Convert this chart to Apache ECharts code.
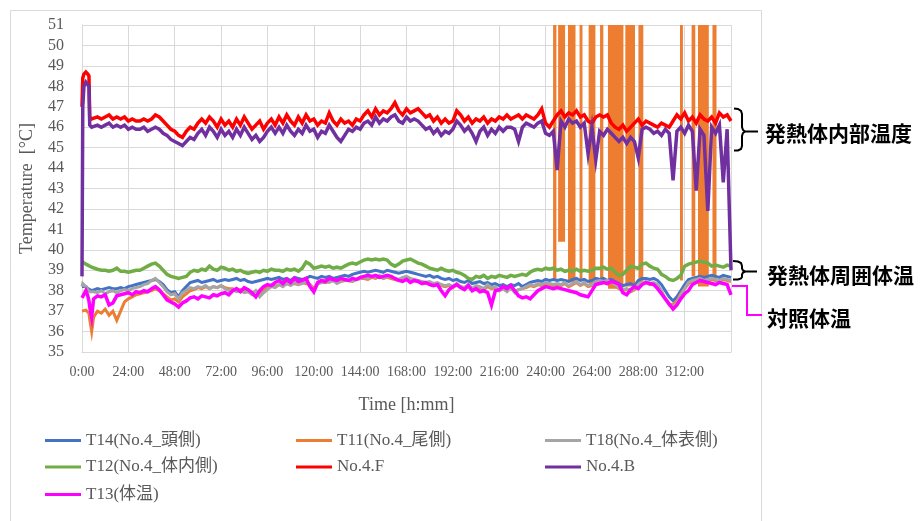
<!DOCTYPE html>
<html>
<head>
<meta charset="utf-8">
<script src="https://cdn.jsdelivr.net/npm/echarts@6/dist/echarts.min.js"></script>
<style>html,body{margin:0;padding:0;background:#fff}#c{width:921px;height:521px}</style>
</head>
<body>
<div id="c"></div>
<script>
// ---- time grid (hours) ----
const hours = [0, 0.4, 1, 2, 3, 3.6, 4, 5];
for (let h = 6; h <= 336; h += 2) hours.push(h);

const xTickLabels = ['0:00','24:00','48:00','72:00','96:00','120:00','144:00','168:00','192:00','216:00','240:00','264:00','288:00','312:00'];

const seriesNames = ['T14(No.4_頭側)','T11(No.4_尾側)','T18(No.4_体表側)','T12(No.4_体内側)','No.4.F','No.4.B','T13(体温)'];

// ---- values (°C) ----
const t14 = [38.2,38.2,38.15,38.2,38.1,38.1,38.05,38.0,
 38.0,38.1,38.05,38.1,38.15,38.1,38.1,38.15,38.1,38.2,38.25,38.3,
 38.35,38.4,38.45,38.5,38.55,38.45,38.3,38.05,37.9,37.95,37.7,38.0,
 38.2,38.4,38.45,38.5,38.4,38.45,38.5,38.55,38.45,38.5,38.55,38.5,
 38.55,38.6,38.5,38.55,38.45,38.4,38.45,38.5,38.55,38.6,38.55,38.6,
 38.65,38.55,38.6,38.5,38.65,38.6,38.55,38.6,38.7,38.65,38.6,38.7,
 38.65,38.7,38.6,38.65,38.7,38.75,38.7,38.8,38.85,38.9,38.95,38.9,
 38.95,39.0,38.95,38.9,39.0,38.95,38.9,38.85,38.9,38.95,38.9,38.85,
 38.8,38.75,38.7,38.75,38.65,38.7,38.6,38.55,38.6,38.5,38.55,38.45,
 38.4,38.5,38.35,38.4,38.45,38.35,38.4,38.3,38.35,38.25,38.3,38.2,
 38.3,38.25,38.35,38.2,38.3,38.4,38.45,38.5,38.45,38.55,38.5,38.55,
 38.5,38.55,38.5,38.45,38.55,38.6,38.5,38.55,38.45,38.5,38.6,38.55,
 38.6,38.5,38.55,38.45,38.35,38.25,38.3,38.35,38.25,38.5,38.6,38.6,
 38.55,38.6,38.5,38.3,38.0,37.7,37.5,37.7,38.0,38.3,38.55,38.6,
 38.65,38.7,38.65,38.7,38.75,38.7,38.65,38.75,38.7,38.65];

const t11 = [37.0,37.0,36.95,37.05,37.0,36.9,36.6,36.0,
 36.7,37.0,36.9,37.1,36.8,37.0,36.55,37.0,37.45,37.6,37.7,37.8,
 37.85,37.9,37.95,38.0,38.1,38.0,37.85,37.7,37.55,37.6,37.45,37.7,
 37.85,38.0,38.05,38.15,38.1,38.2,38.1,38.2,38.15,38.25,38.15,38.1,
 38.1,38.0,38.05,37.95,38.0,37.85,38.0,37.9,38.0,38.15,38.25,38.2,
 38.3,38.25,38.35,38.3,38.35,38.3,38.4,38.35,38.3,38.1,38.35,38.4,
 38.4,38.45,38.5,38.4,38.45,38.5,38.5,38.45,38.55,38.6,38.6,38.55,
 38.65,38.6,38.7,38.6,38.65,38.6,38.55,38.5,38.6,38.65,38.55,38.5,
 38.45,38.4,38.35,38.4,38.3,38.35,38.25,38.2,38.25,38.15,38.3,38.2,
 38.15,38.25,38.1,38.2,38.15,38.05,38.2,38.1,38.15,38.0,38.1,38.0,
 38.1,37.95,38.05,38.1,38.15,38.25,38.2,38.3,38.25,38.35,38.3,38.25,
 38.3,38.25,38.35,38.2,38.3,38.4,38.25,38.35,38.2,38.25,38.4,38.45,
 38.4,38.45,38.35,38.25,38.1,38.0,38.05,37.95,38.05,38.25,38.35,38.4,
 38.3,38.35,38.25,37.95,37.6,37.35,37.3,37.5,37.85,38.1,38.35,38.45,
 38.5,38.55,38.45,38.5,38.55,38.5,38.45,38.55,38.5,38.45];

// T11 sensor dropouts: [start h, end h, low °C, high °C] (high runs off the top of the axis)
const t11Spikes = [
 [243.9,245.6,38.5,51],[246.5,250.1,40.4,51],[251.6,255.5,38.4,51],[257.6,259.1,38.5,51],
 [262.3,265.8,38.3,51],[268.2,269.9,38.3,51],[272.3,280.3,38.1,51],[281.3,286.3,38.2,51],
 [288.2,290.6,38.4,51],[309.6,311.1,38.5,51],[315.6,317.5,38.7,51],[318.9,324.5,38.2,51],
 [326.4,328.5,38.6,51]];

const t18 = [38.2,38.35,38.3,38.2,38.05,38.0,37.95,37.9,
 37.95,37.9,38.0,37.85,37.95,38.0,37.9,38.0,38.05,38.0,38.1,38.15,
 38.2,38.3,38.35,38.5,38.6,38.4,38.2,37.95,37.8,37.85,37.6,37.9,
 38.0,38.15,38.1,38.2,38.15,38.25,38.1,38.2,38.15,38.25,38.1,38.0,
 38.05,37.95,38.0,37.9,37.95,37.8,38.0,37.7,37.9,38.05,38.2,38.15,
 38.3,38.2,38.35,38.25,38.4,38.3,38.35,38.45,38.3,37.95,38.35,38.4,
 38.45,38.4,38.5,38.35,38.45,38.55,38.5,38.45,38.55,38.6,38.65,38.6,
 38.7,38.65,38.75,38.6,38.7,38.65,38.6,38.55,38.65,38.7,38.6,38.55,
 38.5,38.45,38.4,38.45,38.35,38.4,38.3,38.25,38.3,38.2,38.35,38.2,
 38.15,38.3,38.1,38.25,38.2,38.1,38.3,38.15,38.2,38.0,38.1,37.95,
 38.15,37.9,38.05,38.1,38.2,38.3,38.25,38.35,38.3,38.4,38.35,38.3,
 38.35,38.3,38.4,38.25,38.35,38.45,38.3,38.4,38.25,38.3,38.45,38.5,
 38.45,38.5,38.4,38.3,38.15,38.05,38.1,38.0,38.1,38.3,38.4,38.45,
 38.35,38.4,38.3,38.0,37.6,37.3,37.2,37.4,37.8,38.1,38.4,38.5,
 38.55,38.6,38.5,38.55,38.6,38.55,38.5,38.6,38.55,38.5];

const t12 = [39.45,39.4,39.35,39.3,39.25,39.2,39.2,39.15,
 39.1,39.05,39.0,39.0,38.95,39.0,39.1,38.95,38.95,38.9,38.95,39.0,
 39.0,39.1,39.2,39.3,39.35,39.2,39.0,38.8,38.7,38.65,38.6,38.65,
 38.7,38.9,39.0,38.95,39.05,39.0,39.2,39.05,39.0,39.15,39.1,39.0,
 39.05,38.95,39.0,38.9,38.85,38.9,38.95,38.9,39.0,38.95,39.05,39.0,
 39.0,38.95,39.05,39.0,39.05,38.95,39.1,39.4,39.3,39.1,39.15,39.2,
 39.15,39.2,39.1,39.15,39.1,39.2,39.3,39.35,39.3,39.4,39.5,39.55,
 39.5,39.55,39.5,39.55,39.5,39.3,39.2,39.3,39.45,39.5,39.55,39.45,
 39.35,39.3,39.2,39.1,39.05,39.0,39.1,39.0,38.95,39.0,38.9,38.85,
 38.75,38.6,38.55,38.7,38.65,38.75,38.6,38.7,38.65,38.75,38.7,38.65,
 38.75,38.7,38.75,38.8,38.75,38.9,39.0,39.05,39.0,39.1,39.05,39.1,
 39.0,39.05,38.95,39.0,38.95,39.05,38.95,39.0,38.95,39.0,39.1,39.1,
 39.15,39.05,39.1,38.9,38.75,38.8,39.0,39.2,39.15,39.1,39.3,39.35,
 39.2,39.1,39.05,38.8,38.7,38.55,38.5,38.6,38.75,39.2,39.3,39.35,
 39.4,39.45,39.4,39.35,39.2,39.25,39.2,39.15,39.25,39.2];

const no4F = [47.0,48.4,48.6,48.7,48.6,48.5,46.5,46.4,
 46.4,46.5,46.4,46.5,46.6,46.4,46.5,46.4,46.5,46.3,46.4,46.3,
 46.3,46.4,46.3,46.4,46.6,46.5,46.3,46.1,45.9,45.8,45.6,45.5,
 45.8,46.0,45.9,46.2,46.4,46.2,46.5,46.3,46.0,46.4,46.1,46.3,
 46.0,46.4,46.1,46.5,46.2,45.9,46.1,46.3,45.9,46.2,46.4,46.1,
 46.5,46.2,46.6,46.3,46.1,46.5,46.2,46.6,46.3,46.4,46.1,46.3,
 46.2,46.7,46.3,46.1,46.4,46.2,46.3,46.1,46.4,46.3,46.6,46.8,
 46.5,46.9,46.6,46.8,46.7,46.9,47.2,46.8,46.6,46.9,46.7,46.8,
 46.9,46.7,46.5,46.6,46.3,46.5,46.2,46.4,46.2,46.3,46.8,46.6,
 46.3,46.5,46.2,46.4,46.3,46.5,46.2,46.4,46.3,46.5,46.4,46.6,
 46.4,46.5,46.6,46.4,46.6,46.5,46.4,46.6,46.9,46.2,46.0,46.3,
 46.6,46.8,46.5,46.7,46.6,46.8,46.5,46.6,46.3,46.2,46.5,46.6,
 46.5,46.6,46.2,46.0,45.9,46.1,45.8,46.0,46.2,46.4,46.1,46.3,
 46.2,46.1,46.0,46.2,46.1,46.0,46.3,46.6,46.4,46.7,46.3,46.5,
 46.2,46.6,46.4,46.3,46.5,46.2,46.7,46.5,46.6,46.3];

const no4B = [38.7,47.0,48.0,48.2,48.2,48.0,46.1,46.0,
 46.0,46.1,46.0,46.1,46.2,46.0,46.1,46.0,46.1,45.9,46.0,45.9,
 45.9,46.0,45.8,45.9,46.0,45.9,45.7,45.6,45.4,45.3,45.2,45.1,
 45.3,45.5,45.4,45.7,45.9,45.6,46.0,45.8,45.5,45.9,45.6,45.8,
 45.5,45.9,45.6,46.0,45.7,45.4,45.6,45.3,45.5,45.8,46.0,45.7,
 46.0,45.7,46.1,45.8,45.6,45.9,45.7,46.1,45.8,45.9,45.5,45.8,
 45.7,46.1,45.8,45.5,45.3,45.6,45.9,45.8,46.0,45.9,46.2,46.3,
 46.1,46.5,46.2,46.4,46.3,46.5,46.6,46.3,46.2,46.5,46.3,46.4,
 46.3,46.1,45.9,46.0,45.7,45.9,45.6,45.8,45.7,45.9,46.3,46.1,
 45.8,46.0,45.7,45.3,45.8,46.0,45.6,45.9,45.7,46.0,45.8,46.0,
 46.0,45.9,45.3,46.0,46.2,46.1,46.0,46.2,46.3,45.7,45.6,45.8,
 43.9,46.3,46.0,46.4,46.2,46.3,46.0,46.2,44.7,46.0,44.4,45.8,
 45.6,45.9,45.7,45.5,45.3,45.5,45.2,45.5,45.3,44.5,45.9,46.0,
 45.9,45.7,45.8,45.6,45.9,45.7,43.4,45.8,46.0,45.7,46.1,45.8,
 42.9,45.9,45.6,41.9,46.0,45.7,46.1,43.3,45.9,39.0];

const t13 = [37.65,37.7,37.6,38.0,37.75,37.5,37.2,36.7,
 37.6,37.75,37.7,37.8,37.3,37.4,37.75,37.8,37.85,37.9,37.8,37.95,
 37.9,38.0,37.95,38.1,38.2,38.05,37.8,37.55,37.45,37.35,37.2,37.4,
 37.5,37.65,37.7,37.6,37.75,37.7,37.65,37.8,37.75,37.85,37.9,37.8,
 38.0,38.1,37.95,38.15,38.05,37.9,37.7,38.0,38.2,38.3,38.25,38.4,
 38.5,38.35,38.55,38.4,38.6,38.45,38.5,38.6,38.2,37.95,38.4,38.5,
 38.45,38.6,38.55,38.5,38.6,38.55,38.5,38.6,38.55,38.65,38.7,38.75,
 38.7,38.75,38.65,38.7,38.75,38.7,38.6,38.5,38.45,38.55,38.4,38.5,
 38.45,38.35,38.4,38.3,38.25,38.3,38.0,37.75,38.05,38.2,38.3,38.15,
 38.05,38.25,38.0,38.1,37.95,38.0,37.9,37.3,38.0,38.05,38.2,38.1,
 38.25,38.0,37.75,37.65,37.7,37.6,37.8,38.0,38.1,38.2,38.15,38.1,
 38.15,38.1,38.05,38.0,37.95,37.9,37.8,37.75,37.7,38.0,38.3,38.35,
 38.4,38.35,38.45,38.4,38.3,37.9,37.8,38.05,38.2,38.1,38.3,38.4,
 38.35,38.3,38.1,37.85,37.6,37.35,37.1,37.3,37.6,37.85,38.0,38.3,
 38.4,38.5,38.45,38.4,38.35,38.3,38.4,38.35,38.3,37.8];

const seriesValues = [t14, t11, t18, t12, no4F, no4B, t13];
const seriesColors = ['#4472C4','#ED7D31','#A5A5A5','#70AD47','#FF0000','#7030A0','#FF00FF'];
seriesValues.forEach((a, i) => { if (a.length !== hours.length) throw new Error(seriesNames[i] + ' length ' + a.length + ' != ' + hours.length); });

const pair = arr => hours.map((h, i) => [h, arr[i]]);
const serif = '"Liberation Serif", "Noto Sans CJK JP", serif';
const grey = '#595959';
const gridCol = '#d9d9d9';

const lineSeries = (idx, width, z) => ({
  name: seriesNames[idx], type: 'line', data: pair(seriesValues[idx]),
  showSymbol: false, symbol: 'none', color: seriesColors[idx],
  lineStyle: { width: width, color: seriesColors[idx], join: 'miter' }, z: z, silent: true
});

const series = [
  lineSeries(0, 3, 2),
  lineSeries(1, 3, 2),
  {
    name: seriesNames[1], type: 'custom', coordinateSystem: 'cartesian2d', silent: true, z: 2,
    data: t11Spikes, encode: { x: [0, 1], y: [2, 3] },
    renderItem: function (params, api) {
      const a = api.coord([api.value(0), api.value(3)]);
      const b = api.coord([api.value(1), api.value(2)]);
      return { type: 'rect', shape: { x: a[0], y: a[1], width: b[0] - a[0], height: b[1] - a[1] }, style: { fill: seriesColors[1] } };
    }
  },
  lineSeries(2, 3, 2),
  lineSeries(3, 3.5, 2),
  lineSeries(4, 3.5, 2),
  lineSeries(5, 3.5, 2),
  lineSeries(6, 3.5, 2)
];

const legendSpots = [[45,442],[296,442],[545,442],[45,468.5],[296,468.5],[545,468.5],[45,496]];
const legends = seriesNames.map((n, i) => ({
  data: [n], left: legendSpots[i][0], top: legendSpots[i][1] - 10, padding: 0,
  icon: 'rect', itemWidth: 36, itemHeight: 3, selectedMode: false,
  textStyle: { fontFamily: serif, fontSize: 17, color: grey }
}));

const bracketStyle = { fill: null, stroke: '#000', lineWidth: 2 };

const chart = echarts.init(document.getElementById('c'), null, { renderer: 'canvas' });
chart.setOption({
  animation: false,
  backgroundColor: '#fff',
  grid: { left: 82, top: 25, width: 649, height: 327, containLabel: false },
  xAxis: {
    type: 'value', min: 0, max: 336, interval: 24,
    name: 'Time [h:mm]', nameLocation: 'middle', nameGap: 44,
    nameTextStyle: { fontFamily: serif, fontSize: 18, color: grey },
    axisLine: { show: true, lineStyle: { color: gridCol } },
    axisTick: { show: false },
    splitLine: { show: true, lineStyle: { color: gridCol } },
    axisLabel: { fontFamily: serif, fontSize: 14, color: grey, margin: 13,
      formatter: v => xTickLabels[Math.round(v / 24)] || '' }
  },
  yAxis: {
    type: 'value', min: 35, max: 51, interval: 1,
    name: 'Temperature  [°C]', nameLocation: 'middle', nameGap: 46, nameRotate: 90,
    nameTextStyle: { fontFamily: serif, fontSize: 18, color: grey },
    axisLine: { show: true, lineStyle: { color: gridCol } },
    axisTick: { show: false },
    splitLine: { show: true, lineStyle: { color: gridCol } },
    axisLabel: { fontFamily: serif, fontSize: 16, color: grey, margin: 18 }
  },
  legend: legends,
  series: series,
  graphic: [
    { type: 'rect', z: -10, shape: { x: 10.5, y: 10.5, width: 751, height: 530 }, style: { fill: null, stroke: gridCol, lineWidth: 1 } },
    { type: 'polyline', shape: { points: [[734,108.5],[738,109],[741,111],[742,114],[742,127],[743,130],[745,131.5],[758,131.5]] }, style: bracketStyle },
    { type: 'polyline', shape: { points: [[745,131.5],[743,133],[742,136],[742,146],[741,149],[738,150.5],[734,150.5]] }, style: bracketStyle },
    { type: 'polyline', shape: { points: [[733,261],[738,261.5],[741,263],[742,266],[742,268.5],[743,270.5],[745,271.5],[757,271.5]] }, style: bracketStyle },
    { type: 'polyline', shape: { points: [[745,271.5],[743,272.5],[742,274.5],[742,277],[741,278.5],[738,279.5],[733,279.5]] }, style: bracketStyle },
    { type: 'polyline', shape: { points: [[731,286],[747,286],[747,315],[762,315]] }, style: { fill: null, stroke: '#FF00FF', lineWidth: 2 } },
    { type: 'text', style: { x: 765, y: 133, text: '発熱体内部温度', fontFamily: '"Noto Sans CJK JP"', fontWeight: 'bold', fontSize: 21, fill: '#000', verticalAlign: 'middle' } },
    { type: 'text', style: { x: 767, y: 275, text: '発熱体周囲体温', fontFamily: '"Noto Sans CJK JP"', fontWeight: 'bold', fontSize: 21, fill: '#000', verticalAlign: 'middle' } },
    { type: 'text', style: { x: 767, y: 318, text: '対照体温', fontFamily: '"Noto Sans CJK JP"', fontWeight: 'bold', fontSize: 21, fill: '#000', verticalAlign: 'middle' } }
  ]
});
</script>
</body>
</html>
